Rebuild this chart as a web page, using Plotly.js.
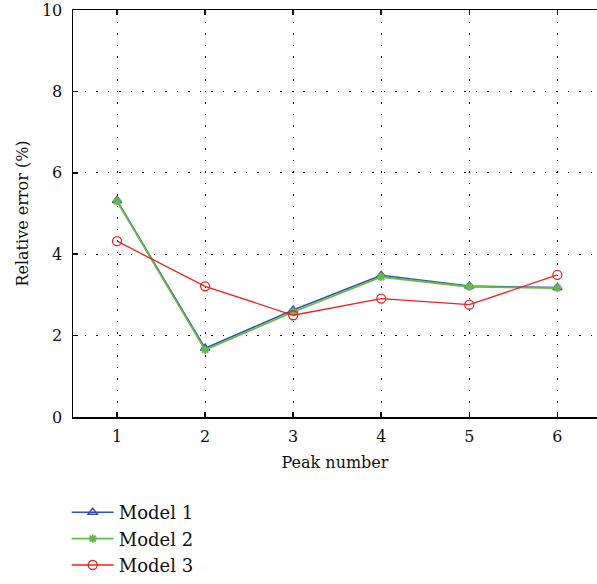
<!DOCTYPE html>
<html>
<head>
<meta charset="utf-8">
<script src="https://cdn.plot.ly/plotly-3.0.1.min.js"></script>
<style>html,body{margin:0;padding:0;background:#fff;}#chart{width:597px;height:584px;}</style>
</head>
<body>
<div id="chart"></div>
<script>
var peaks = [1, 2, 3, 4, 5, 6];
var model1 = [5.32, 1.69, 2.63, 3.48, 3.22, 3.18];
var model2 = [5.30, 1.65, 2.58, 3.44, 3.20, 3.17];
var model3 = [4.32, 3.21, 2.50, 2.91, 2.76, 3.49];
var seriesNames = ["Model 1", "Model 2", "Model 3"];
var xTicks = [1, 2, 3, 4, 5, 6];
var yTicks = [0, 2, 4, 6, 8, 10];

var fontFam = "DejaVu Serif";
var traces = [
  {x: peaks, y: model1, name: seriesNames[0], mode: "lines+markers", type: "scatter",
   line: {color: "#3050b8", width: 1.5},
   marker: {symbol: "triangle-up-open", size: 8, color: "#3050b8", line: {width: 1.5}}},
  {x: peaks, y: model2, name: seriesNames[1], mode: "lines+markers", type: "scatter",
   line: {color: "#66bb44", width: 1.8},
   marker: {symbol: "asterisk-open", size: 7, color: "#66bb44", line: {width: 2, color: "#66bb44"}}},
  {x: peaks, y: model3, name: seriesNames[2], mode: "lines+markers", type: "scatter",
   line: {color: "#ee2222", width: 1.3},
   marker: {symbol: "circle-open", size: 9, color: "#ee2222", line: {width: 1.3}}}
];
var layout = {
  width: 597, height: 584,
  margin: {l: 73, r: 0, t: 10, b: 166},
  paper_bgcolor: "#fff", plot_bgcolor: "#fff",
  font: {family: fontFam, size: 16, color: "#111"},
  showlegend: true,
  legend: {x: -0.012, y: -0.19, xanchor: "left", yanchor: "top", orientation: "v",
           font: {family: fontFam, size: 18, color: "#111"}, tracegroupgap: 0, itemwidth: 42,
           bgcolor: "rgba(0,0,0,0)"},
  xaxis: {range: [0.5, 6.45], tickvals: xTicks, ticktext: xTicks.map(String),
          showline: true, linecolor: "#000", linewidth: 1.5, mirror: "ticks",
          ticks: "inside", ticklen: 5, tickcolor: "#000", tickwidth: 1.5,
          showgrid: true, gridcolor: "#000", gridwidth: 1, griddash: "1.5px,10px",
          zeroline: false, ticklabelstandoff: 4,
          tickfont: {family: fontFam, size: 16},
          title: {text: "Peak number", font: {family: fontFam, size: 16}, standoff: 12}},
  yaxis: {range: [0, 10], tickvals: yTicks, ticktext: yTicks.map(String),
          showline: true, linecolor: "#000", linewidth: 1.5, mirror: false,
          ticks: "inside", ticklen: 5, tickcolor: "#000", tickwidth: 1.5,
          showgrid: true, gridcolor: "#000", gridwidth: 1, griddash: "1.5px,10px",
          zeroline: false, ticklabelstandoff: 6,
          tickfont: {family: fontFam, size: 16},
          title: {text: "Relative error (%)", font: {family: fontFam, size: 16}, standoff: 9}}
};
Plotly.newPlot("chart", traces, layout, {displayModeBar: false, staticPlot: true});
</script>
</body>
</html>
